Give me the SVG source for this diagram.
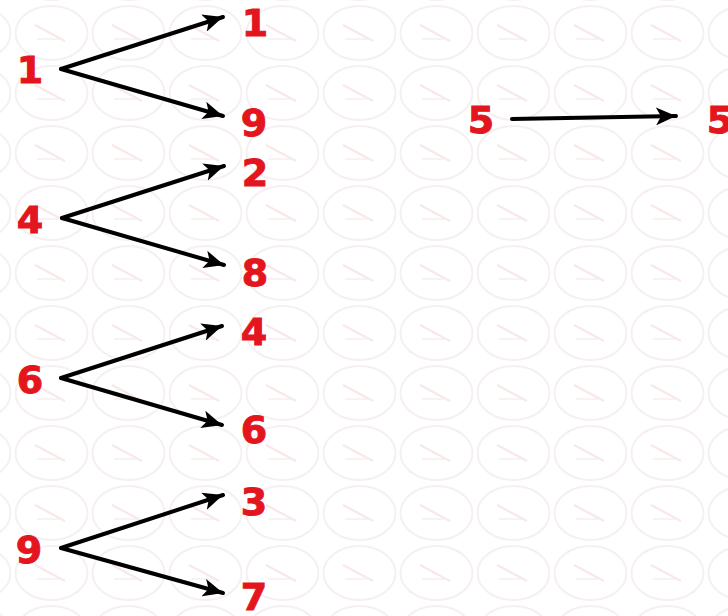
<svg xmlns="http://www.w3.org/2000/svg" width="728" height="616" viewBox="0 0 728 616">
  <style>
    .num { font-family: "DejaVu Sans", Verdana, sans-serif; font-weight: bold; font-size: 38px; fill: #e3161e; stroke: #e3161e; stroke-width: 1; text-anchor: middle; }
    .arr { stroke: #000; stroke-width: 4; fill: none; stroke-linecap: round; marker-end: url(#ah); }
  </style>
  <defs>
    <marker id="ah" markerUnits="userSpaceOnUse" markerWidth="22" markerHeight="18" refX="20" refY="9" orient="auto">
      <path d="M0,0 L20,9 L0,18 L5,9 Z" fill="#000"/>
    </marker>
    <pattern id="wm" patternUnits="userSpaceOnUse" x="13" y="3" width="77" height="60">
      <ellipse cx="38.5" cy="30" rx="36" ry="27" fill="none" stroke="#f6f0f0" stroke-width="2"/>
      <path d="M22,22 L52,38" stroke="#f8e8e8" stroke-width="2" fill="none"/>
      <path d="M24,36 L50,36" stroke="#f7eeee" stroke-width="1.5" fill="none"/>
    </pattern>
  </defs>
  <rect width="728" height="616" fill="#ffffff"/>
  <rect width="728" height="616" fill="url(#wm)"/>

  <g id="connectors">
    <line class="arr" x1="61" y1="69" x2="223" y2="17"/>
    <line class="arr" x1="61" y1="69" x2="223" y2="116"/>
    <line class="arr" x1="62" y1="218" x2="224" y2="166"/>
    <line class="arr" x1="62" y1="218" x2="224" y2="265"/>
    <line class="arr" x1="61" y1="378" x2="222" y2="326"/>
    <line class="arr" x1="61" y1="378" x2="222" y2="425"/>
    <line class="arr" x1="61" y1="548" x2="223" y2="495"/>
    <line class="arr" x1="61" y1="548" x2="223" y2="593"/>
    <line class="arr" x1="512" y1="119" x2="676" y2="116"/>
  </g>

  <g id="n1"><text class="num" x="30" y="83">1</text></g>
  <g id="n1a"><text class="num" x="255" y="36">1</text></g>
  <g id="n9a"><text class="num" x="254" y="136">9</text></g>

  <g id="n4"><text class="num" x="30" y="233">4</text></g>
  <g id="n2a"><text class="num" x="255" y="186">2</text></g>
  <g id="n8a"><text class="num" x="255" y="286">8</text></g>

  <g id="n6"><text class="num" x="30" y="393">6</text></g>
  <g id="n4a"><text class="num" x="254" y="345">4</text></g>
  <g id="n6a"><text class="num" x="254" y="443">6</text></g>

  <g id="n9"><text class="num" x="29" y="563">9</text></g>
  <g id="n3a"><text class="num" x="254" y="515">3</text></g>
  <g id="n7a"><text class="num" x="254" y="610">7</text></g>

  <g id="n5"><text class="num" x="481" y="133">5</text></g>
  <g id="n5a"><text class="num" x="720" y="133">5</text></g>
</svg>
